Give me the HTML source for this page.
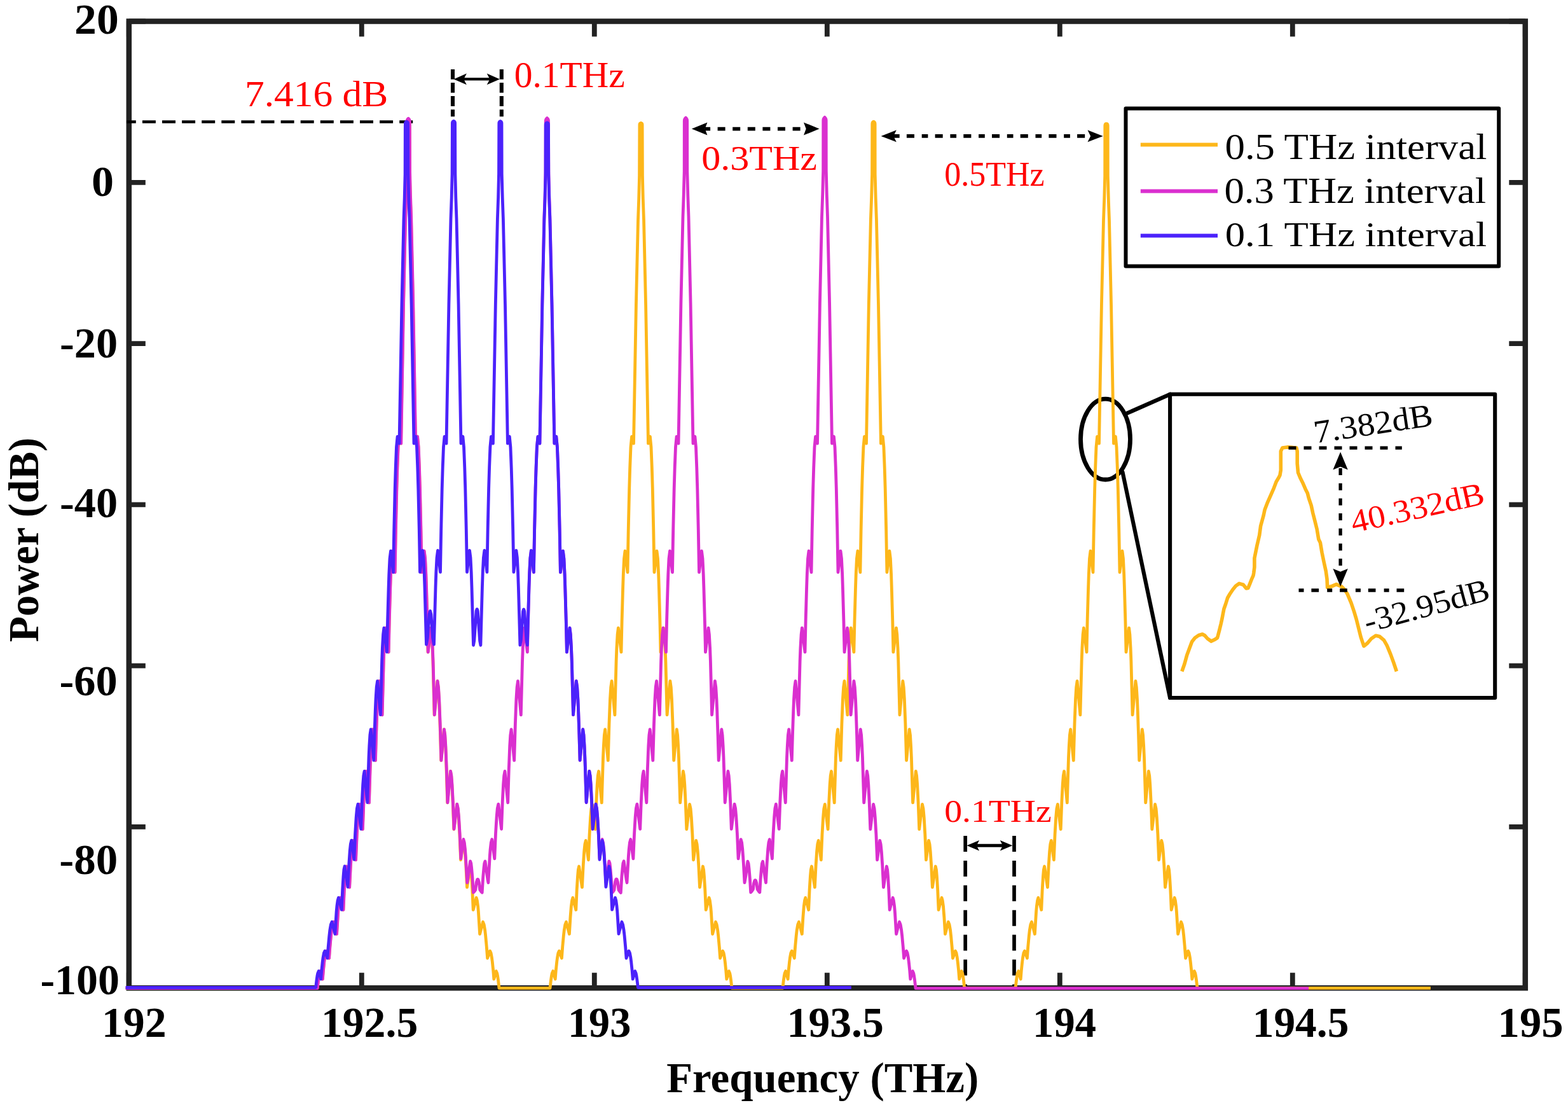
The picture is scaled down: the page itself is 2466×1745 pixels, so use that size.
<!DOCTYPE html>
<html><head><meta charset="utf-8"><title>Spectrum</title>
<style>html,body{margin:0;padding:0;background:#fff;}svg{display:block;}</style></head>
<body>
<svg width="2466" height="1745" viewBox="0 0 2466 1745">
<rect width="2466" height="1745" fill="#fff"/>
<rect x="202.8" y="33.5" width="2196.0" height="1519.7" fill="none" stroke="#222222" stroke-width="8.5"/>
<path d="M202.8 1553.2V1529.3M202.8 33.5V57.4M568.8 1553.2V1529.3M568.8 33.5V57.4M934.8 1553.2V1529.3M934.8 33.5V57.4M1300.8 1553.2V1529.3M1300.8 33.5V57.4M1666.8 1553.2V1529.3M1666.8 33.5V57.4M2032.8 1553.2V1529.3M2032.8 33.5V57.4M2398.8 1553.2V1529.3M2398.8 33.5V57.4M202.8 33.5H228.8M2398.8 33.5H2373.3M202.8 286.8H228.8M2398.8 286.8H2373.3M202.8 540.1H228.8M2398.8 540.1H2373.3M202.8 793.3H228.8M2398.8 793.3H2373.3M202.8 1046.6H228.8M2398.8 1046.6H2373.3M202.8 1299.9H228.8M2398.8 1299.9H2373.3M202.8 1553.2H228.8M2398.8 1553.2H2373.3" stroke="#222222" stroke-width="7.8" fill="none"/>
<text transform="matrix(1.0240 0 0 1.0000 117.1 53.0)" font-family="'Liberation Serif', 'Times New Roman', serif" font-weight="bold" font-size="68" fill="#000">20</text>
<text transform="matrix(1.0296 0 0 1.0000 143.9 307.9)" font-family="'Liberation Serif', 'Times New Roman', serif" font-weight="bold" font-size="68" fill="#000">0</text>
<text transform="matrix(1.0047 0 0 1.0000 94.0 561.8)" font-family="'Liberation Serif', 'Times New Roman', serif" font-weight="bold" font-size="68" fill="#000">-20</text>
<text transform="matrix(1.0047 0 0 1.0000 94.0 812.6)" font-family="'Liberation Serif', 'Times New Roman', serif" font-weight="bold" font-size="68" fill="#000">-40</text>
<text transform="matrix(1.0058 0 0 1.0000 93.5 1093.2)" font-family="'Liberation Serif', 'Times New Roman', serif" font-weight="bold" font-size="68" fill="#000">-60</text>
<text transform="matrix(1.0140 0 0 1.0000 93.2 1373.5)" font-family="'Liberation Serif', 'Times New Roman', serif" font-weight="bold" font-size="68" fill="#000">-80</text>
<text transform="matrix(0.9992 0 0 1.0000 63.4 1563.2)" font-family="'Liberation Serif', 'Times New Roman', serif" font-weight="bold" font-size="68" fill="#000">-100</text>
<text transform="matrix(0.9987 0 0 1.0000 159.9 1630.4)" font-family="'Liberation Serif', 'Times New Roman', serif" font-weight="bold" font-size="68" fill="#000">192</text>
<text transform="matrix(0.9959 0 0 1.0000 504.9 1630.4)" font-family="'Liberation Serif', 'Times New Roman', serif" font-weight="bold" font-size="68" fill="#000">192.5</text>
<text transform="matrix(0.9742 0 0 1.0000 892.9 1630.4)" font-family="'Liberation Serif', 'Times New Roman', serif" font-weight="bold" font-size="68" fill="#000">193</text>
<text transform="matrix(0.9952 0 0 1.0000 1237.6 1630.4)" font-family="'Liberation Serif', 'Times New Roman', serif" font-weight="bold" font-size="68" fill="#000">193.5</text>
<text transform="matrix(0.9795 0 0 1.0000 1624.1 1630.4)" font-family="'Liberation Serif', 'Times New Roman', serif" font-weight="bold" font-size="68" fill="#000">194</text>
<text transform="matrix(0.9917 0 0 1.0000 1969.7 1630.4)" font-family="'Liberation Serif', 'Times New Roman', serif" font-weight="bold" font-size="68" fill="#000">194.5</text>
<text transform="matrix(1.0096 0 0 1.0000 2355.6 1630.4)" font-family="'Liberation Serif', 'Times New Roman', serif" font-weight="bold" font-size="68" fill="#000">195</text>
<text transform="matrix(0.9987 0 0 1.0000 1048.2 1716.8)" font-family="'Liberation Serif', 'Times New Roman', serif" font-weight="bold" font-size="67" fill="#000">Frequency (THz)</text>
<text transform="translate(60.4 1009.6) rotate(-90) scale(0.9917 1)" font-family="'Liberation Serif', 'Times New Roman', serif" font-weight="bold" font-size="67">Power (dB)</text>
<path d="M199 191.4H649.5" stroke="#000" stroke-width="4.5" stroke-dasharray="21 10.1" stroke-dashoffset="6.2"/>
<text transform="matrix(1.0977 0 0 1.0000 384.9 166.6)" font-family="'Liberation Serif', 'Times New Roman', serif" font-size="56" fill="#FF0000">7.416 dB</text>
<path d="M712.0 108.9V183.2M788.8 108.9V183.2" stroke="#000" stroke-width="6.1" stroke-dasharray="15.8 5.3"/>
<path d="M728.6 124.4H771" stroke="#000" stroke-width="4.2"/>
<path d="M713.6 124.4L733.9 115.6L729.2 124.4L733.9 133.2ZM786.0 124.4L765.7 133.2L770.4 124.4L765.7 115.6Z" fill="#000"/>
<text transform="matrix(1.0268 0 0 1.0000 808.7 136.6)" font-family="'Liberation Serif', 'Times New Roman', serif" font-size="56" fill="#FF0000">0.1THz</text>
<path d="M1108.7 202.5H1267.6" stroke="#000" stroke-width="5.75" stroke-dasharray="8.4 11.5 12 11.6 12 11.6 12 11.6 12 11.6 12 11.6 12 11.6"/>
<path d="M1087.8 202.5L1112.4 192.4L1108.7 202.5L1112.4 212.6ZM1288.6 202.5L1264.0 212.6L1267.7 202.5L1264.0 192.4Z" fill="#000"/>
<text transform="matrix(1.0721 0 0 0.9879 1103.3 266.8)" font-family="'Liberation Serif', 'Times New Roman', serif" font-size="56" fill="#FF0000">0.3THz</text>
<path d="M1405 213.9H1717" stroke="#000" stroke-width="5.6" stroke-dasharray="9.7 11.2 12.1 11.7"/>
<path d="M1385.6 213.9L1409.8 204.5L1405.2 213.9L1409.8 223.3ZM1734.7 213.9L1710.5 223.3L1715.1 213.9L1710.5 204.5Z" fill="#000"/>
<text transform="matrix(0.9291 0 0 0.9745 1485.2 292.4)" font-family="'Liberation Serif', 'Times New Roman', serif" font-size="56" fill="#FF0000">0.5THz</text>
<path d="M1518.2 1314V1550M1595.0 1314V1550" stroke="#000" stroke-width="5.7" stroke-dasharray="25 13.9"/>
<path d="M1536 1329.2H1577" stroke="#000" stroke-width="5.0"/>
<path d="M1520.5 1329.2L1540.1 1320.9L1535.8 1329.2L1540.1 1337.5ZM1592.4 1329.2L1572.8 1337.5L1577.1 1329.2L1572.8 1320.9Z" fill="#000"/>
<text transform="matrix(0.9949 0 0 0.9101 1485.2 1291.6)" font-family="'Liberation Serif', 'Times New Roman', serif" font-size="56" fill="#FF0000">0.1THz</text>
<ellipse cx="1738.5" cy="690.6" rx="39" ry="63.4" fill="none" stroke="#000" stroke-width="6.8"/>
<path d="M1772.0 649.9L1840.1 619.8M1765.4 741.9L1840.1 1097.0" stroke="#000" stroke-width="6.2" stroke-linecap="round"/>
<path d="M197.6 1553.4L499.0 1553.4 500.5 1540.6 501.5 1533.6 502.2 1530.1 503.7 1526.6 507.2 1539.2 508.3 1525.6 509.7 1512.0 510.6 1505.2 511.9 1498.3 513.4 1494.9 517.4 1506.3 518.7 1488.8 520.3 1471.3 521.3 1462.5 522.8 1453.7 524.5 1449.3 529.4 1468.3 531.6 1433.3 532.4 1424.5 533.6 1415.7 534.9 1411.3 539.8 1430.3 541.2 1398.8 542.5 1377.7 543.4 1367.2 544.6 1362.0 549.5 1394.9 551.2 1361.0 552.7 1338.4 553.9 1327.1 555.3 1321.4 559.4 1351.8 561.1 1311.5 562.7 1284.6 563.9 1271.2 565.4 1264.4 570.2 1303.7 571.8 1261.6 573.2 1233.6 574.3 1219.5 575.6 1212.5 580.3 1261.9 582.5 1191.0 583.3 1173.3 584.4 1155.5 585.7 1146.7 590.3 1195.4 591.4 1157.0 592.7 1118.7 593.5 1099.5 594.7 1080.3 596.1 1070.7 600.9 1123.9 603.1 1039.7 603.9 1018.7 605.1 997.6 606.4 987.1 611.0 1025.1 612.1 976.2 613.5 927.3 614.3 902.8 615.5 878.4 617.0 866.2 621.0 899.7 622.2 834.1 623.7 768.4 624.7 735.6 626.0 702.7 627.6 686.3 630.5 697.1 634.4 479.8 637.5 344.9 638.7 311.7 639.6 274.8 639.9 195.6 640.0 193.9 640.4 193.1 641.0 192.5 642.0 192.0 643.0 192.5 643.6 193.1 644.0 193.9 644.1 195.6 644.4 274.8 645.3 311.7 646.5 344.9 649.6 479.8 653.5 697.1 656.4 686.3 658.0 702.7 659.3 735.6 660.3 768.4 661.8 834.1 663.0 899.7 667.0 866.2 668.5 878.4 669.7 902.8 670.5 927.3 671.9 976.2 673.0 1025.1 677.6 987.1 678.9 997.6 680.1 1018.7 680.9 1039.7 683.1 1123.9 687.9 1070.7 689.3 1080.3 690.5 1099.5 691.3 1118.7 692.6 1157.0 693.7 1195.4 698.3 1146.7 699.6 1155.5 700.7 1173.3 701.5 1191.0 703.7 1261.9 708.4 1212.5 709.7 1219.5 710.8 1233.6 712.2 1261.6 713.8 1303.7 718.6 1264.4 720.1 1271.2 721.3 1284.6 722.9 1311.5 724.6 1351.8 728.7 1321.4 730.1 1327.1 731.3 1338.4 732.8 1361.0 734.5 1394.9 739.4 1362.0 740.6 1367.2 741.5 1377.7 742.8 1398.8 744.2 1430.3 749.1 1411.3 750.4 1415.7 751.6 1424.5 752.4 1433.3 754.6 1468.3 759.5 1449.3 761.2 1453.7 762.7 1462.5 763.7 1471.3 765.3 1488.8 766.6 1506.3 770.6 1494.9 772.1 1498.3 773.4 1505.2 774.3 1512.0 775.7 1525.6 776.8 1539.2 780.3 1526.6 781.8 1530.1 782.5 1533.6 783.5 1540.6 785.0 1553.4 865.0 1553.4 866.5 1540.6 867.5 1533.6 868.2 1530.1 869.7 1526.6 873.2 1539.2 874.3 1525.6 875.7 1512.0 876.6 1505.2 877.9 1498.3 879.4 1494.9 883.4 1506.3 884.7 1488.8 886.3 1471.3 887.3 1462.5 888.8 1453.7 890.5 1449.3 895.4 1468.3 897.0 1442.0 898.4 1424.5 899.6 1415.7 900.9 1411.3 905.8 1430.3 907.2 1398.8 908.5 1377.7 909.4 1367.2 910.6 1362.0 915.5 1394.9 917.2 1361.0 918.7 1338.4 919.9 1327.1 921.3 1321.4 925.4 1351.8 927.1 1311.5 928.7 1284.6 929.9 1271.2 931.4 1264.4 936.2 1303.7 937.8 1261.6 939.2 1233.6 940.3 1219.5 941.6 1212.5 946.3 1261.9 948.5 1191.0 949.3 1173.3 950.4 1155.5 951.7 1146.7 956.3 1195.4 958.0 1137.8 959.5 1099.5 960.7 1080.3 962.1 1070.7 966.9 1123.9 969.1 1039.7 969.9 1018.7 971.1 997.6 972.4 987.1 977.0 1025.1 978.1 976.2 979.5 927.3 980.3 902.8 981.5 878.4 983.0 866.2 987.0 899.7 988.2 834.1 989.7 768.4 990.7 735.6 992.0 702.7 993.6 686.3 996.5 697.1 1000.4 480.2 1003.5 345.7 1004.7 312.7 1005.6 275.9 1005.9 196.7 1006.0 195.1 1006.4 194.3 1007.0 193.7 1008.0 193.4 1009.0 193.7 1009.6 194.3 1010.0 195.1 1010.1 196.7 1010.4 275.9 1011.3 312.7 1012.5 345.7 1015.6 480.2 1019.5 697.1 1022.4 686.3 1024.0 702.7 1025.3 735.6 1026.3 768.4 1027.8 834.1 1029.0 899.7 1033.0 866.2 1034.5 878.4 1035.7 902.8 1036.5 927.3 1037.9 976.2 1039.0 1025.1 1043.6 987.1 1044.9 997.6 1046.1 1018.7 1046.9 1039.7 1049.1 1123.9 1053.9 1070.7 1055.3 1080.3 1056.5 1099.5 1058.0 1137.8 1059.7 1195.4 1064.3 1146.7 1065.6 1155.5 1066.7 1173.3 1067.5 1191.0 1069.7 1261.9 1074.4 1212.5 1075.7 1219.5 1076.8 1233.6 1078.2 1261.6 1079.8 1303.7 1084.6 1264.4 1086.1 1271.2 1087.3 1284.6 1088.9 1311.5 1090.6 1351.8 1094.7 1321.4 1096.1 1327.1 1097.3 1338.4 1098.8 1361.0 1100.5 1394.9 1105.4 1362.0 1106.6 1367.2 1107.5 1377.7 1108.8 1398.8 1110.2 1430.3 1115.1 1411.3 1116.4 1415.7 1117.6 1424.5 1118.4 1433.3 1120.6 1468.3 1125.5 1449.3 1127.2 1453.7 1128.7 1462.5 1129.7 1471.3 1131.3 1488.8 1132.6 1506.3 1136.6 1494.9 1138.1 1498.3 1139.4 1505.2 1140.3 1512.0 1141.7 1525.6 1142.8 1539.2 1146.3 1526.6 1147.8 1530.1 1148.5 1533.6 1149.5 1540.6 1151.0 1553.4 1230.9 1553.4 1232.4 1540.6 1233.4 1533.6 1234.1 1530.1 1235.6 1526.6 1239.1 1539.2 1240.2 1525.6 1241.6 1512.0 1242.5 1505.2 1243.8 1498.3 1245.3 1494.9 1249.3 1506.3 1250.6 1488.8 1252.2 1471.3 1253.2 1462.5 1254.7 1453.7 1256.4 1449.3 1261.3 1468.3 1262.9 1442.0 1264.3 1424.5 1265.5 1415.7 1266.8 1411.3 1271.7 1430.3 1273.1 1398.8 1274.4 1377.7 1275.3 1367.2 1276.5 1362.0 1281.4 1394.9 1283.1 1361.0 1284.6 1338.4 1285.8 1327.1 1287.2 1321.4 1291.3 1351.8 1293.0 1311.5 1294.6 1284.6 1295.8 1271.2 1297.3 1264.4 1302.1 1303.7 1303.7 1261.6 1305.1 1233.6 1306.2 1219.5 1307.5 1212.5 1312.2 1261.9 1314.4 1191.0 1315.2 1173.3 1316.3 1155.5 1317.6 1146.7 1322.2 1195.4 1323.9 1137.8 1325.4 1099.5 1326.6 1080.3 1328.0 1070.7 1332.8 1123.9 1335.0 1039.7 1335.8 1018.7 1337.0 997.6 1338.3 987.1 1342.9 1025.1 1344.0 976.2 1345.4 927.3 1346.2 902.8 1347.4 878.4 1348.9 866.2 1352.9 899.7 1354.1 834.1 1355.6 768.4 1356.6 735.6 1357.9 702.7 1359.5 686.3 1362.5 697.1 1366.3 479.5 1369.4 344.4 1370.6 311.1 1371.6 274.2 1371.8 195.0 1372.0 193.3 1372.3 192.4 1372.9 191.7 1373.9 191.2 1374.9 191.7 1375.5 192.4 1375.9 193.3 1376.1 195.0 1376.2 274.2 1377.2 311.1 1378.4 344.4 1381.5 479.5 1385.4 697.1 1388.3 686.3 1389.9 702.7 1391.2 735.6 1392.2 768.4 1393.7 834.1 1394.9 899.7 1398.9 866.2 1400.4 878.4 1401.6 902.8 1402.4 927.3 1403.8 976.2 1404.9 1025.1 1409.5 987.1 1410.8 997.6 1412.0 1018.7 1412.8 1039.7 1415.0 1123.9 1419.8 1070.7 1421.2 1080.3 1422.4 1099.5 1423.9 1137.8 1425.6 1195.4 1430.2 1146.7 1431.5 1155.5 1432.6 1173.3 1433.4 1191.0 1435.6 1261.9 1440.3 1212.5 1441.6 1219.5 1442.7 1233.6 1444.1 1261.6 1445.7 1303.7 1450.5 1264.4 1452.0 1271.2 1453.2 1284.6 1454.8 1311.5 1456.5 1351.8 1460.6 1321.4 1462.0 1327.1 1463.2 1338.4 1464.7 1361.0 1466.4 1394.9 1471.3 1362.0 1472.5 1367.2 1473.4 1377.7 1474.7 1398.8 1476.1 1430.3 1481.0 1411.3 1482.3 1415.7 1483.5 1424.5 1484.9 1442.0 1486.5 1468.3 1491.4 1449.3 1493.1 1453.7 1494.6 1462.5 1495.6 1471.3 1497.2 1488.8 1498.5 1506.3 1502.5 1494.9 1504.0 1498.3 1505.3 1505.2 1506.2 1512.0 1507.6 1525.6 1508.7 1539.2 1512.2 1526.6 1513.7 1530.1 1514.4 1533.6 1515.4 1540.6 1516.8 1553.4 1597.0 1553.4 1598.5 1540.6 1599.5 1533.6 1600.2 1530.1 1601.7 1526.6 1605.2 1539.2 1606.3 1525.6 1607.7 1512.0 1608.6 1505.2 1609.9 1498.3 1611.4 1494.9 1615.4 1506.3 1616.7 1488.8 1618.3 1471.3 1619.3 1462.5 1620.8 1453.7 1622.5 1449.3 1627.4 1468.3 1629.6 1433.3 1630.4 1424.5 1631.6 1415.7 1632.9 1411.3 1637.8 1430.3 1639.2 1398.8 1640.5 1377.7 1641.4 1367.2 1642.6 1362.0 1647.5 1394.9 1649.2 1361.0 1650.7 1338.4 1651.9 1327.1 1653.3 1321.4 1657.4 1351.8 1659.1 1311.5 1660.7 1284.6 1661.9 1271.2 1663.4 1264.4 1668.2 1303.7 1669.8 1261.6 1671.2 1233.6 1672.3 1219.5 1673.6 1212.5 1678.3 1261.9 1680.5 1191.0 1681.3 1173.3 1682.4 1155.5 1683.7 1146.7 1688.3 1195.4 1690.0 1137.8 1691.5 1099.5 1692.7 1080.3 1694.1 1070.7 1698.9 1123.9 1701.1 1039.7 1701.9 1018.7 1703.1 997.6 1704.4 987.1 1709.0 1025.1 1710.1 976.2 1711.5 927.3 1712.3 902.8 1713.5 878.4 1715.0 866.2 1719.0 899.7 1720.2 834.1 1721.7 768.4 1722.7 735.6 1724.0 702.7 1725.6 686.3 1728.5 697.1 1732.4 480.6 1735.5 346.4 1736.7 313.5 1737.7 276.8 1737.8 197.6 1738.0 196.0 1738.4 195.2 1739.0 194.7 1740.0 194.5 1741.0 194.7 1741.6 195.2 1742.0 196.0 1742.2 197.6 1742.3 276.8 1743.3 313.5 1744.5 346.4 1747.6 480.6 1751.5 697.1 1754.4 686.3 1756.0 702.7 1757.3 735.6 1758.3 768.4 1759.8 834.1 1761.0 899.7 1765.0 866.2 1766.5 878.4 1767.7 902.8 1768.5 927.3 1769.9 976.2 1771.0 1025.1 1775.6 987.1 1776.9 997.6 1778.1 1018.7 1778.9 1039.7 1781.1 1123.9 1785.9 1070.7 1787.3 1080.3 1788.5 1099.5 1789.3 1118.7 1790.6 1157.0 1791.7 1195.4 1796.3 1146.7 1797.6 1155.5 1798.7 1173.3 1799.5 1191.0 1801.7 1261.9 1806.4 1212.5 1807.7 1219.5 1808.8 1233.6 1810.2 1261.6 1811.8 1303.7 1816.6 1264.4 1818.1 1271.2 1819.3 1284.6 1820.9 1311.5 1822.6 1351.8 1826.7 1321.4 1828.1 1327.1 1829.3 1338.4 1830.8 1361.0 1832.5 1394.9 1837.4 1362.0 1838.6 1367.2 1839.5 1377.7 1840.8 1398.8 1842.2 1430.3 1847.1 1411.3 1848.4 1415.7 1849.6 1424.5 1850.4 1433.3 1852.6 1468.3 1857.5 1449.3 1859.2 1453.7 1860.7 1462.5 1861.7 1471.3 1863.3 1488.8 1864.6 1506.3 1868.6 1494.9 1870.1 1498.3 1871.4 1505.2 1872.3 1512.0 1873.7 1525.6 1874.8 1539.2 1878.3 1526.6 1879.8 1530.1 1880.5 1533.6 1881.5 1540.6 1883.0 1553.4 2249.9 1553.4" fill="none" stroke="#FDB71A" stroke-width="4.8" stroke-linejoin="round" stroke-linecap="butt"/>
<path d="M197.6 1553.6L499.2 1553.6 500.7 1540.6 501.7 1533.6 502.4 1530.1 503.9 1526.6 507.4 1539.2 508.5 1525.6 509.9 1512.0 510.8 1505.2 512.1 1498.3 513.6 1494.9 517.6 1506.3 518.9 1488.8 520.5 1471.3 521.5 1462.5 523.0 1453.7 524.7 1449.3 529.6 1468.3 531.8 1433.3 532.6 1424.5 533.8 1415.7 535.1 1411.3 540.0 1430.3 541.4 1398.8 542.7 1377.7 543.6 1367.2 544.8 1362.0 549.7 1394.9 551.4 1361.0 552.9 1338.4 554.1 1327.1 555.5 1321.4 559.6 1351.8 561.3 1311.5 562.9 1284.6 564.1 1271.2 565.6 1264.4 570.4 1303.7 572.0 1261.6 573.4 1233.6 574.5 1219.5 575.8 1212.5 580.5 1261.9 582.7 1191.0 583.5 1173.3 584.6 1155.5 585.9 1146.7 590.5 1195.4 591.6 1157.0 592.9 1118.7 593.7 1099.5 594.9 1080.3 596.3 1070.7 601.1 1123.9 603.3 1039.7 604.1 1018.7 605.3 997.6 606.6 987.1 611.2 1025.1 612.3 976.2 613.7 927.3 614.5 902.8 615.7 878.4 617.2 866.2 621.2 899.7 622.4 834.1 623.9 768.4 624.9 735.6 626.2 702.7 627.8 686.3 630.8 697.1 634.6 477.8 637.7 341.4 638.9 307.7 639.9 270.3 640.1 191.0 640.2 189.2 640.6 188.2 641.2 187.3 642.2 186.3 643.2 187.3 643.8 188.2 644.2 189.2 644.4 191.0 644.6 270.3 645.5 307.7 646.7 341.4 649.8 477.8 653.7 697.1 656.6 686.3 658.2 702.7 659.5 735.6 660.5 768.4 662.0 834.1 663.2 899.7 667.2 866.2 668.7 878.4 669.9 902.8 670.7 927.3 672.1 976.2 673.2 1025.1 677.8 987.1 679.1 997.6 680.3 1018.7 681.1 1039.7 683.3 1123.9 688.1 1070.7 689.5 1080.3 690.7 1099.5 692.2 1137.8 693.9 1195.4 698.5 1146.7 699.8 1155.5 700.9 1173.2 702.3 1208.7 703.9 1261.8 708.6 1212.4 709.9 1219.4 711.0 1233.4 712.4 1261.4 714.0 1303.3 718.8 1264.1 720.3 1270.7 721.5 1284.0 723.1 1310.5 724.8 1349.9 728.9 1319.5 730.3 1324.7 731.5 1335.3 732.3 1346.0 734.7 1387.7 735.8 1381.5 739.6 1353.9 740.8 1357.2 741.7 1365.1 742.9 1378.8 744.4 1403.2 746.1 1401.4 747.8 1398.9 749.3 1386.9 750.6 1382.8 751.3 1382.3 752.0 1382.8 753.3 1386.9 754.8 1398.9 756.6 1401.5 758.2 1403.2 759.7 1378.8 760.9 1365.1 761.8 1357.2 763.0 1353.9 766.8 1381.5 767.9 1387.7 770.3 1346.0 771.1 1335.3 772.3 1324.7 773.7 1319.5 777.8 1349.9 779.5 1310.5 781.1 1284.0 782.3 1270.7 783.8 1264.1 788.6 1303.3 790.2 1261.4 791.6 1233.4 792.7 1219.4 794.0 1212.4 798.7 1261.8 800.3 1208.7 801.7 1173.2 802.8 1155.5 804.1 1146.7 808.7 1195.4 810.4 1137.8 811.9 1099.5 813.1 1080.3 814.5 1070.7 819.3 1123.9 821.5 1039.7 822.3 1018.7 823.5 997.6 824.8 987.1 829.4 1025.1 830.5 976.2 831.9 927.3 832.7 902.8 833.9 878.4 835.4 866.2 839.4 899.7 840.6 834.1 842.1 768.4 843.1 735.6 844.4 702.7 846.0 686.3 848.9 697.1 852.8 477.6 855.9 341.0 857.1 307.2 858.0 269.7 858.2 190.4 858.4 188.6 858.8 187.6 859.4 186.6 860.4 185.6 861.4 186.6 862.0 187.6 862.4 188.6 862.5 190.4 862.8 269.7 863.7 307.2 864.9 341.0 868.0 477.6 871.9 697.1 874.8 686.3 876.4 702.7 877.7 735.6 878.7 768.4 880.2 834.1 881.4 899.7 885.4 866.2 886.9 878.4 888.1 902.8 888.9 927.3 890.3 976.2 891.4 1025.1 896.0 987.1 897.3 997.6 898.5 1018.7 899.3 1039.7 901.5 1123.9 906.3 1070.7 907.7 1080.3 908.9 1099.5 910.4 1137.8 912.1 1195.4 916.7 1146.7 918.0 1155.5 919.1 1173.2 920.5 1208.7 922.1 1261.8 926.8 1212.4 928.1 1219.4 929.2 1233.4 930.6 1261.4 932.2 1303.3 937.0 1264.1 938.5 1270.7 939.7 1283.9 941.3 1310.5 943.0 1349.9 947.1 1319.5 948.5 1324.7 949.7 1335.3 950.5 1346.0 952.9 1387.7 953.9 1382.1 957.8 1353.8 959.0 1357.1 959.9 1365.1 961.0 1377.4 962.6 1403.4 964.4 1401.5 965.9 1399.2 967.5 1386.4 968.8 1382.3 969.5 1381.9 970.1 1382.3 971.4 1386.4 973.0 1399.2 974.6 1401.5 976.3 1403.4 977.9 1377.4 979.0 1365.1 979.9 1357.1 981.1 1353.8 985.0 1382.1 986.0 1387.7 988.4 1346.0 989.2 1335.3 990.4 1324.7 991.8 1319.5 995.9 1349.9 997.6 1310.5 999.2 1283.9 1000.4 1270.7 1001.9 1264.1 1006.7 1303.3 1008.3 1261.4 1009.7 1233.4 1010.8 1219.4 1012.1 1212.4 1016.8 1261.8 1018.4 1208.7 1019.8 1173.2 1020.9 1155.5 1022.2 1146.7 1026.8 1195.4 1028.5 1137.8 1030.0 1099.5 1031.2 1080.3 1032.6 1070.7 1037.4 1123.9 1039.6 1039.7 1040.4 1018.7 1041.6 997.6 1042.9 987.1 1047.5 1025.1 1048.6 976.2 1050.0 927.3 1050.8 902.8 1052.0 878.4 1053.5 866.2 1057.5 899.7 1058.7 834.1 1060.2 768.4 1061.2 735.6 1062.5 702.7 1064.1 686.3 1067.0 697.1 1070.9 477.4 1074.0 340.7 1075.2 306.8 1076.2 269.3 1076.3 190.0 1076.5 188.2 1076.9 187.2 1077.5 186.2 1078.5 185.1 1079.5 186.2 1080.1 187.2 1080.5 188.2 1080.7 190.0 1080.8 269.3 1081.8 306.8 1083.0 340.7 1086.1 477.4 1090.0 697.1 1092.9 686.3 1094.5 702.7 1095.8 735.6 1096.8 768.4 1098.3 834.1 1099.5 899.7 1103.5 866.2 1105.0 878.4 1106.2 902.8 1107.0 927.3 1108.4 976.2 1109.5 1025.1 1114.1 987.1 1115.4 997.6 1116.6 1018.7 1117.4 1039.7 1119.6 1123.9 1124.4 1070.7 1125.8 1080.3 1127.0 1099.5 1127.8 1118.7 1129.1 1157.0 1130.2 1195.4 1134.8 1146.7 1136.1 1155.5 1137.2 1173.2 1138.0 1191.0 1140.2 1261.8 1144.9 1212.4 1146.2 1219.4 1147.3 1233.4 1148.7 1261.4 1150.3 1303.3 1155.1 1264.1 1156.6 1270.7 1157.8 1284.0 1159.4 1310.4 1161.1 1349.9 1165.2 1319.6 1166.6 1324.7 1167.8 1335.3 1169.3 1356.6 1171.0 1387.6 1172.4 1379.7 1175.9 1354.2 1177.1 1357.5 1178.0 1365.3 1179.5 1383.0 1180.7 1402.8 1182.6 1400.8 1184.4 1398.0 1185.6 1388.5 1186.9 1384.2 1187.6 1383.6 1187.9 1383.6 1188.6 1384.2 1189.9 1388.5 1191.1 1398.0 1193.1 1401.0 1194.8 1402.8 1196.0 1383.0 1197.5 1365.3 1198.4 1357.5 1199.6 1354.2 1203.1 1379.7 1204.5 1387.6 1206.2 1356.6 1207.7 1335.3 1208.9 1324.7 1210.3 1319.6 1214.4 1349.9 1216.1 1310.4 1217.7 1284.0 1218.9 1270.7 1220.4 1264.1 1225.2 1303.3 1226.8 1261.4 1228.2 1233.4 1229.3 1219.4 1230.6 1212.4 1235.3 1261.8 1237.5 1191.0 1238.3 1173.2 1239.4 1155.5 1240.7 1146.7 1245.3 1195.4 1246.4 1157.0 1247.7 1118.7 1248.5 1099.5 1249.7 1080.3 1251.1 1070.7 1255.9 1123.9 1258.1 1039.7 1258.9 1018.7 1260.1 997.6 1261.4 987.1 1266.0 1025.1 1267.1 976.2 1268.5 927.3 1269.3 902.8 1270.5 878.4 1272.0 866.2 1276.0 899.7 1277.2 834.1 1278.7 768.4 1279.7 735.6 1281.0 702.7 1282.6 686.3 1285.5 697.1 1289.4 477.2 1292.5 340.3 1293.7 306.3 1294.7 268.8 1294.8 189.4 1295.0 187.6 1295.4 186.5 1296.0 185.5 1297.0 184.4 1298.0 185.5 1298.6 186.5 1299.0 187.6 1299.2 189.4 1299.3 268.8 1300.3 306.3 1301.5 340.3 1304.6 477.2 1308.5 697.1 1311.4 686.3 1313.0 702.7 1314.3 735.6 1315.3 768.4 1316.8 834.1 1318.0 899.7 1322.0 866.2 1323.5 878.4 1324.7 902.8 1325.5 927.3 1326.9 976.2 1328.0 1025.1 1332.6 987.1 1333.9 997.6 1335.1 1018.7 1335.9 1039.7 1338.1 1123.9 1342.9 1070.7 1344.3 1080.3 1345.5 1099.5 1346.3 1118.7 1347.6 1157.0 1348.7 1195.4 1353.3 1146.7 1354.6 1155.5 1355.7 1173.3 1356.5 1191.0 1358.7 1261.9 1363.4 1212.5 1364.7 1219.5 1365.8 1233.6 1367.2 1261.6 1368.8 1303.7 1373.6 1264.4 1375.1 1271.2 1376.3 1284.6 1377.9 1311.5 1379.6 1351.8 1383.7 1321.4 1385.1 1327.1 1386.3 1338.4 1387.8 1361.0 1389.5 1394.9 1394.4 1362.0 1395.6 1367.2 1396.5 1377.7 1397.8 1398.8 1399.2 1430.3 1404.1 1411.3 1405.4 1415.7 1406.6 1424.5 1407.4 1433.3 1409.6 1468.3 1414.5 1449.3 1416.2 1453.7 1417.7 1462.5 1418.7 1471.3 1420.3 1488.8 1421.6 1506.3 1425.6 1494.9 1427.1 1498.3 1428.4 1505.2 1429.3 1512.0 1430.7 1525.6 1431.8 1539.2 1435.3 1526.6 1436.8 1530.1 1437.5 1533.6 1438.5 1540.6 1440.0 1553.6 2058.2 1553.6" fill="none" stroke="#DA2FCF" stroke-width="4.8" stroke-linejoin="round" stroke-linecap="butt"/>
<path d="M197.6 1552.5L496.6 1552.5 498.0 1540.6 499.0 1533.6 499.7 1530.1 501.2 1526.6 504.7 1539.2 505.8 1525.6 507.2 1512.0 508.1 1505.1 509.4 1498.3 510.9 1494.9 514.9 1506.3 516.2 1488.8 517.8 1471.2 518.8 1462.5 520.3 1453.7 522.0 1449.3 526.9 1468.2 529.1 1433.2 529.9 1424.4 531.1 1415.6 532.4 1411.3 537.3 1430.1 538.7 1398.6 540.0 1377.6 540.9 1367.1 542.1 1361.8 547.0 1394.4 548.7 1360.6 550.2 1338.1 551.4 1326.8 552.8 1321.1 556.9 1351.3 558.6 1311.2 560.2 1284.4 561.4 1271.0 562.9 1264.2 567.7 1303.3 569.3 1261.4 570.7 1233.4 571.8 1219.4 573.1 1212.4 577.8 1261.5 580.0 1190.9 580.8 1173.2 581.9 1155.4 583.2 1146.6 587.8 1195.2 588.9 1156.9 590.2 1118.6 591.0 1099.4 592.2 1080.2 593.6 1070.6 598.4 1123.7 600.6 1039.7 601.4 1018.6 602.6 997.6 603.9 987.1 608.5 1025.0 609.6 976.2 611.0 927.3 611.8 902.8 613.0 878.4 614.5 866.2 618.5 899.7 619.7 834.1 621.2 768.4 622.2 735.6 623.5 702.7 625.1 686.3 628.0 697.1 631.9 479.5 635.0 344.3 636.2 311.1 637.1 274.1 637.3 204.4 637.4 194.9 637.5 193.2 637.9 192.3 638.5 191.6 639.5 191.1 640.5 191.6 641.1 192.3 641.5 193.2 641.6 194.9 641.9 274.1 642.8 311.1 644.0 344.3 647.1 479.5 651.0 697.1 653.9 686.3 655.5 702.7 656.8 735.5 657.8 768.4 659.3 833.9 660.5 899.4 664.5 865.5 666.0 877.1 667.2 900.4 668.0 923.7 670.5 1013.1 672.4 1002.9 675.1 965.5 676.6 960.5 677.9 965.5 680.6 1002.9 682.5 1013.1 685.0 923.7 685.8 900.4 687.0 877.1 688.5 865.5 692.5 899.4 693.7 833.9 695.2 768.4 696.2 735.5 697.5 702.7 699.1 686.3 702.0 697.1 705.9 479.1 709.0 343.8 710.2 310.4 711.1 273.4 711.4 194.1 711.5 192.4 711.9 191.5 712.5 190.8 713.5 190.2 714.5 190.8 715.1 191.5 715.5 192.4 715.6 194.1 715.9 273.4 716.8 310.4 718.0 343.8 721.1 479.1 725.0 697.1 727.9 686.3 729.5 702.7 730.8 735.5 731.8 768.4 733.3 833.9 734.5 899.4 738.5 865.3 740.0 876.9 741.2 900.4 742.0 924.1 744.5 1014.3 745.8 1007.3 749.1 960.5 750.0 957.6 750.4 957.6 751.3 960.5 754.6 1007.3 755.9 1014.3 758.4 924.1 759.2 900.4 760.4 876.9 761.9 865.3 765.9 899.4 767.1 833.9 768.6 768.4 769.6 735.5 770.9 702.7 772.5 686.3 775.4 697.1 779.3 479.3 782.4 344.0 783.6 310.6 784.5 273.6 784.8 194.4 784.9 192.7 785.3 191.8 785.9 191.1 786.9 190.5 787.9 191.1 788.5 191.8 788.9 192.7 789.0 194.4 789.2 273.6 790.2 310.6 791.4 344.0 794.5 479.3 798.4 697.1 801.3 686.3 802.9 702.7 804.2 735.5 805.2 768.4 806.7 833.9 807.9 899.4 811.9 865.4 813.4 876.9 814.6 900.3 815.4 924.0 817.9 1014.1 819.3 1006.6 822.5 961.3 823.5 958.0 823.8 958.0 824.8 961.3 828.0 1006.6 829.4 1014.1 831.9 924.0 832.7 900.3 833.9 877.0 835.4 865.4 839.4 899.4 840.6 833.9 842.1 768.4 843.1 735.5 844.4 702.7 846.0 686.3 848.9 697.1 852.8 480.0 855.9 345.4 857.1 312.3 858.0 275.4 858.2 196.3 858.4 194.6 858.8 193.8 859.4 193.2 860.4 192.8 861.4 193.2 862.0 193.8 862.4 194.6 862.5 196.3 862.8 275.4 863.7 312.3 864.9 345.4 868.0 480.0 871.9 697.1 874.8 686.3 876.4 702.7 877.7 735.6 878.7 768.4 880.2 834.1 881.4 899.7 885.4 866.2 886.9 878.4 888.1 902.8 888.9 927.3 890.3 976.2 891.4 1025.1 896.0 987.1 897.3 997.6 898.5 1018.6 899.3 1039.7 901.5 1123.7 906.3 1070.6 907.7 1080.2 908.9 1099.4 909.7 1118.6 911.0 1156.9 912.1 1195.2 916.7 1146.6 918.0 1155.4 919.1 1173.1 919.9 1190.8 922.1 1261.5 926.8 1212.3 928.1 1219.4 929.2 1233.4 930.6 1261.4 932.2 1303.3 937.0 1264.2 938.5 1271.0 939.7 1284.4 941.3 1311.2 943.0 1351.3 947.1 1321.1 948.5 1326.8 949.7 1338.1 951.2 1360.6 952.9 1394.4 957.8 1361.8 959.0 1367.1 959.9 1377.6 961.2 1398.6 962.6 1430.1 967.5 1411.3 968.8 1415.6 970.0 1424.4 970.8 1433.2 973.0 1468.2 977.9 1449.3 979.6 1453.7 981.1 1462.5 982.1 1471.2 983.7 1488.7 985.0 1506.3 989.0 1494.9 990.5 1498.3 991.8 1505.1 992.7 1512.0 994.1 1525.6 995.2 1539.2 998.7 1526.6 1000.2 1530.1 1000.9 1533.6 1001.9 1540.6 1003.4 1552.5 1338.8 1552.5" fill="none" stroke="#4B22FB" stroke-width="4.8" stroke-linejoin="round" stroke-linecap="butt"/>
<rect x="1840.1" y="619.8" width="511.1" height="477.2" fill="#fff" stroke="#000" stroke-width="6.1" stroke-linejoin="round"/>
<path d="M1858.8 1055.5L1862.9 1043.8L1866.4 1030.9L1867.6 1027.4L1871.1 1018.1L1874.6 1008.7L1879.3 1002.8L1885.1 998.8L1891.0 997.0L1895.0 999.3L1899.1 1004.0L1905.0 1008.1L1909.7 1005.8L1914.4 1002.8L1915.5 999.3L1917.9 990.0L1920.2 980.6L1922.0 972.4L1923.1 966.6L1924.9 957.2L1927.8 949.0L1930.7 939.7L1934.2 933.8L1938.9 926.8L1943.6 921.0L1948.9 917.4L1955.3 919.2L1960.0 925.0L1962.9 924.5L1965.8 917.4L1968.8 909.8L1971.1 904.6L1971.7 901.1L1972.9 891.7L1972.9 877.5L1976.8 858.1L1980.7 841.3L1982.6 827.1L1987.2 810.3L1989.1 801.2L1993.6 789.6L1998.8 777.9L2003.3 767.6L2007.2 757.2L2011.1 750.8L2013.0 746.9L2014.3 739.1L2014.3 728.8L2014.3 709.4L2016.9 704.0L2024.7 702.9L2038.9 704.0L2040.2 709.4L2040.2 728.8L2041.5 743.0L2045.3 752.1L2049.2 759.8L2053.1 768.9L2056.3 775.3L2058.3 783.1L2062.2 794.7L2064.7 806.4L2068.0 819.3L2071.2 832.2L2073.8 847.8L2076.4 852.9L2079.0 868.5L2082.2 884.0L2085.2 897.6L2087.0 910.4L2087.6 923.3L2093.4 922.1L2101.6 918.6L2109.8 922.1L2114.5 926.8L2119.1 933.8L2125.0 947.9L2129.7 961.9L2133.2 973.6L2136.7 987.6L2140.2 1001.7L2144.9 1015.7L2150.7 1011.0L2156.6 1004.0L2163.6 999.3L2169.5 1000.5L2176.5 1006.4L2181.2 1014.6L2187.0 1028.6L2191.7 1041.5L2196.4 1055.5" fill="none" stroke="#FDB71A" stroke-width="5.6" stroke-linejoin="round"/>
<path d="M2026.5 704.1H2204.8" stroke="#000" stroke-width="5.3" stroke-dasharray="12 12"/>
<path d="M2042.5 928.0H2216.2" stroke="#000" stroke-width="5.3" stroke-dasharray="8 11.9 11.7 13.1"/>
<path d="M2108.1 736V896" stroke="#000" stroke-width="5.3" stroke-dasharray="11 12.7"/>
<path d="M2108.1 710.5L2119.8 738.5L2108.1 733.8L2096.4 738.5ZM2108.1 922.1L2096.4 894.1L2108.1 898.8L2119.8 894.1Z" fill="#000"/>
<text transform="translate(2068.8 696.7) rotate(-8.50) scale(1.0800 1)" font-family="'Liberation Serif', 'Times New Roman', serif" font-size="51.1" fill="#000">7.382dB</text>
<text transform="translate(2128.5 837.8) rotate(-12.50) scale(1.0700 1)" font-family="'Liberation Serif', 'Times New Roman', serif" font-size="51.0" fill="#FF0000">40.332dB</text>
<text transform="translate(2150.0 994.7) rotate(-15.00) scale(1.0700 1)" font-family="'Liberation Serif', 'Times New Roman', serif" font-size="50.5" fill="#000">-32.95dB</text>
<rect x="1770.5" y="170.5" width="586.7" height="248.1" fill="#fff" stroke="#000" stroke-width="6" stroke-linejoin="round"/>
<path d="M1793.8 227.6H1915.0" stroke="#FDB71A" stroke-width="6"/>
<path d="M1793.8 300.4H1915.0" stroke="#DA2FCF" stroke-width="6"/>
<path d="M1793.8 370.6H1915.0" stroke="#4B22FB" stroke-width="6"/>
<text transform="matrix(1.1214 0 0 1.0000 1926.5 250.0)" font-family="'Liberation Serif', 'Times New Roman', serif" font-size="56" fill="#000">0.5 THz interval</text>
<text transform="matrix(1.1203 0 0 1.0000 1925.4 319.0)" font-family="'Liberation Serif', 'Times New Roman', serif" font-size="56" fill="#000">0.3 THz interval</text>
<text transform="matrix(1.1200 0 0 1.0000 1926.7 387.3)" font-family="'Liberation Serif', 'Times New Roman', serif" font-size="56" fill="#000">0.1 THz interval</text>
</svg>
</body></html>
